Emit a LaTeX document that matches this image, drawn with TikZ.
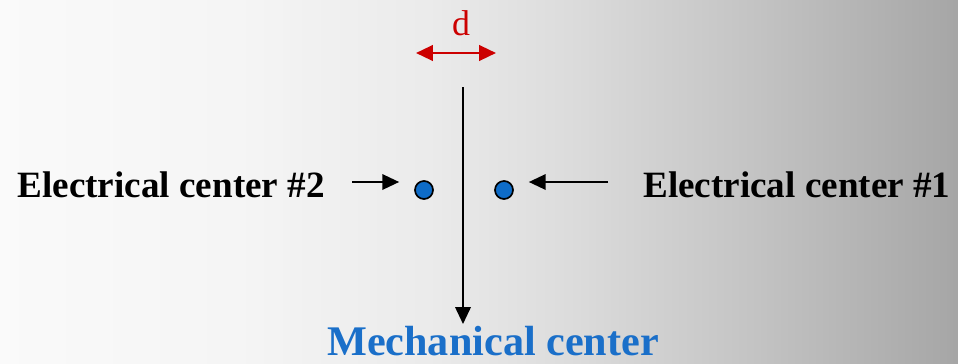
\documentclass[tikz,border=0pt]{standalone}
\usepackage{fontspec}
\setmainfont{Liberation Serif}
\usetikzlibrary{arrows.meta, positioning, calc}
\definecolor{mechblue}{HTML}{1A6FC9}
\definecolor{dotblue}{HTML}{0E6CC8}
\definecolor{dred}{HTML}{CC0000}
\pgfdeclarehorizontalshading{bgshade}{100bp}{color(0bp)=(white!98!black); color(25bp)=(white!98!black); color(37.5bp)=(white!96!black); color(47.5bp)=(white!92!black); color(55bp)=(white!86!black); color(64bp)=(white!77!black); color(75bp)=(white!65!black); color(100bp)=(white!65!black)}

\begin{document}
\begin{tikzpicture}[
    x=0.025cm, y=-0.025cm,
    label/.style={font=\bfseries\fontsize{26.4}{30}\selectfont, inner sep=0pt},
    center/.style={circle, draw=black, fill=dotblue, line width=1.2pt, minimum size=18*0.025cm, inner sep=0pt},
    pointer/.style={-{Triangle[length=12pt, width=11pt]}, line width=1.4pt},
]

\shade[shading=bgshade] (0,0) rectangle (958,363);
\useasboundingbox (0,0) rectangle (958,363);

\node[center] (c2) at (424,190) {};
\node[center] (c1) at (504,190) {};
\node[label, anchor=base east] (e2) at (325,197) {Electrical center \#2};
\node[label, anchor=base west] (e1) at (643,197) {Electrical center \#1};
\node[font=\bfseries\fontsize{30}{34}\selectfont, text=mechblue, inner sep=0pt, anchor=base] (mech) at (493,355) {Mechanical center};

\draw[pointer, shorten <=27*0.025cm, shorten >=15*0.025cm] (e2.east |- 0,182) -- (c2.west |- 0,182);
\draw[pointer, shorten <=35*0.025cm, shorten >=15*0.025cm] (e1.west |- 0,182) -- (c1.east |- 0,182);

% axis down to the mechanical center
\coordinate (top) at (463,87);
\draw[pointer] (top) -- (top |- 0,324);

% offset between the two centers
\coordinate (dl) at (416,53);
\coordinate (dr) at (496,53);
\draw[{Triangle[length=12pt, width=11pt]}-{Triangle[length=12pt, width=11pt]}, dred, line width=1.8pt] (dl) -- (dr);
\node[text=dred, font=\fontsize{25.5}{28}\selectfont, inner sep=0pt, anchor=base] (d) at (461,35) {d};

\end{tikzpicture}
\end{document}
